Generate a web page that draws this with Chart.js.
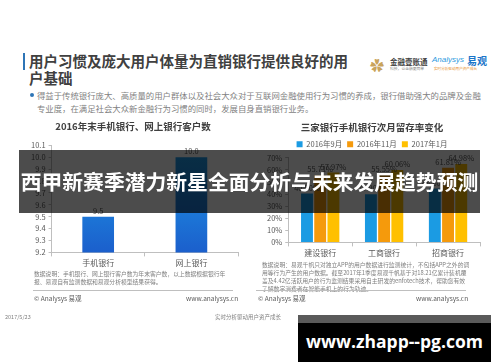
<!DOCTYPE html>
<html>
<head>
<meta charset="utf-8">
<script src="https://cdn.jsdelivr.net/npm/chart.js@4.4.0/dist/chart.umd.min.js"></script>
<style>
  html, body { margin: 0; padding: 0; background: #fff; }
  body { width: 500px; height: 362px; position: relative; overflow: hidden;
         font-family: "Noto Sans CJK SC", "Noto Sans", sans-serif; color: #595959; }
  .abs { position: absolute; white-space: nowrap; }
  #bar { left: 23px; top: 53px; width: 2px; height: 17px; background: #2e75b6; }
  #title { left: 29px; top: 52px; font-size: 14.5px; font-weight: bold; color: #404040; line-height: 17px; white-space: normal; width: 330px; }
  #bullet { left: 37px; top: 89px; font-size: 8.4px; line-height: 13px; color: #7f7f7f; white-space: normal; width: 445px; }
  #dot { left: 30px; top: 93px; width: 4px; height: 4px; border-radius: 2px; background: #2e75b6; }
  .note { font-size: 5.8px; line-height: 8px; color: #7f7f7f; white-space: normal; }
  .hr { height: 1px; background: #bfbfbf; }
  .src { font-size: 6.5px; color: #595959; }
  #banner { left: 19px; top: 150px; width: 461px; height: 63px; background: rgba(0,0,0,0.7);
            color: #fff; font-size: 20.8px; font-weight: bold; line-height: 63px; text-align: center; }
  #site { left: 298px; top: 315px; width: 193px; height: 47px; background: #000; border-top: 8px solid #5a5a5a; box-sizing: border-box;
          color: #fff; font-family: "Open Sans", sans-serif; font-weight: bold; font-size: 17.5px; line-height: 37px; text-align: center; }
</style>
</head>
<body>
<div class="abs" id="bar"></div>
<div class="abs" id="title">用户习惯及庞大用户体量为直销银行提供良好的用户基础</div>
<div class="abs" style="left:370px;top:55px;font-size:14px;color:#c9a45c;">✿</div>
<div class="abs" style="left:390px;top:56px;font-size:7.5px;color:#404040;font-weight:bold;">金融壹账通</div>
<div class="abs" style="left:390px;top:66px;font-size:3.8px;color:#7f7f7f;">科技，让金融更简单</div>
<div class="abs" style="left:432px;top:55px;font-size:8px;color:#2e9be0;font-style:italic;font-family:'Liberation Sans';">Analysys</div>
<div class="abs" style="left:467px;top:53px;font-size:10px;color:#1b75c9;font-weight:bold;">易观</div>
<div class="abs" style="left:434px;top:66px;font-size:3.6px;color:#e8912c;">实时分析驱动用户资产成长</div>
<div class="abs" id="dot"></div>
<div class="abs" id="bullet">得益于传统银行庞大、高质量的用户群体以及社会大众对于互联网金融使用行为习惯的养成，银行借助强大的品牌及金融专业度，在满足社会大众新金融行为习惯的同时，发展自身直销银行业务。</div>

<div class="abs" style="left:18px;top:118px;width:232px;height:152px;"><canvas id="c1" width="232" height="152"></canvas></div>
<div class="abs" style="left:252px;top:118px;width:240px;height:142px;"><canvas id="c2" width="240" height="142"></canvas></div>

<div class="abs note" style="left:34px;top:270px;width:200px;">数据说明：手机银行、网上银行客户数为年末客户数，以上数据根据银行年报、易观自有监测数据和易观分析模型结果获得。</div>
<div class="abs hr" style="left:33px;top:290px;width:200px;"></div>
<div class="abs src" style="left:34px;top:293px;">© Analysys 易观</div>
<div class="abs src" style="left:186px;top:293px;">www.analysys.cn</div>

<div class="abs note" style="left:262px;top:261px;width:208px;">数据说明：易观千帆只对独立APP的用户数据进行监测统计，不包括APP之外的调用等行为产生的用户数据。截至2017年1季度易观千帆基于对18.21亿累计装机覆盖及4.42亿活跃用户的行为监测结果采用自主研发的enfotech技术，帮助您有效了解数字消费者在智能手机上的行为轨迹。</div>
<div class="abs hr" style="left:256px;top:290px;width:210px;"></div>
<div class="abs src" style="left:258px;top:293px;">© Analysys 易观</div>
<div class="abs src" style="left:416px;top:293px;">www.analysys.cn</div>

<div class="abs" style="left:5px;top:313px;font-size:5.5px;color:#7f7f7f;">2017/5/23</div>
<div class="abs" style="left:215px;top:313px;font-size:5.5px;color:#7f7f7f;">实时分析驱动用户资产成长</div>
<div class="abs" style="left:485px;top:313px;font-size:5.5px;color:#7f7f7f;">7</div>

<div class="abs" id="banner">西甲新赛季潜力新星全面分析与未来发展趋势预测</div>
<div class="abs" id="site">www.zhapp--pg.com</div>

<script>
const channels = ['手机银行', '网上银行'];
const customers = [9.5, 10.0];

const banks = ['建设银行', '工商银行', '招商银行'];
const months = ['2016年9月', '2016年11月', '2017年1月'];
const retainSep16 = [40.5, 39.9, 44.60];
const retainNov16 = [55.71, 55.55, 61.81];
const retainJan17 = [57.97, 60.06, 64.98];
const colors = ['#1b9be3', '#f59a0c', '#ffc000'];

const font = "'Noto Sans CJK SC', sans-serif";
Chart.defaults.font.family = font;
Chart.defaults.color = '#595959';
Chart.defaults.animation = false;

const valueLabels = {
  id: 'valueLabels',
  afterDatasetsDraw(chart, args, opts) {
    const ctx = chart.ctx;
    ctx.save();
    ctx.font = '7.5px ' + font;
    ctx.fillStyle = '#595959';
    ctx.textAlign = 'center';
    ctx.textBaseline = 'bottom';
    chart.data.datasets.forEach((ds, i) => {
      chart.getDatasetMeta(i).data.forEach((el, j) => {
        ctx.fillText(opts.fmt(ds.data[j]), el.x, el.y - 2);
      });
    });
    ctx.restore();
  }
};

function axisX() {
  return {
    grid: { display: true, drawOnChartArea: false, offset: true, tickLength: 4, color: '#bfbfbf' },
    border: { color: '#bfbfbf' },
    ticks: { font: { size: 8 }, padding: 2 }
  };
}

new Chart(document.getElementById('c1'), {
  type: 'bar',
  data: {
    labels: channels,
    datasets: [{
      data: customers,
      backgroundColor(c) {
        const a = c.chart.chartArea;
        if (!a) return '#1b8fe0';
        const g = c.chart.ctx.createLinearGradient(0, a.top, 0, a.bottom);
        g.addColorStop(0, '#1ea0ea');
        g.addColorStop(1, '#1b5fcc');
        return g;
      },
      barPercentage: 0.34,
      categoryPercentage: 1
    }]
  },
  options: {
    responsive: false,
    layout: { padding: { left: 10, right: 12, top: 0, bottom: 0 } },
    plugins: {
      legend: { display: false },
      tooltip: { enabled: false },
      title: { display: true, text: '2016年末手机银行、网上银行客户数', color: '#404040',
               font: { size: 9.5, weight: 'bold' }, padding: { top: 3, bottom: 13 } },
      valueLabels: { fmt: v => v.toFixed(1) }
    },
    scales: {
      x: axisX(),
      y: {
        min: 9.2, max: 10.1,
        grid: { display: true, drawOnChartArea: false, tickLength: 3, color: '#bfbfbf' },
        border: { color: '#bfbfbf' },
        ticks: { stepSize: 0.1, autoSkip: false, font: { size: 7.5 }, padding: 3, callback: v => v.toFixed(1) }
      }
    }
  },
  plugins: [valueLabels]
});

new Chart(document.getElementById('c2'), {
  type: 'bar',
  data: {
    labels: banks,
    datasets: [
      { label: months[0], data: retainSep16, backgroundColor: colors[0] },
      { label: months[1], data: retainNov16, backgroundColor: colors[1] },
      { label: months[2], data: retainJan17, backgroundColor: colors[2] }
    ].map(d => Object.assign(d, { barPercentage: 0.9, categoryPercentage: 0.62 }))
  },
  options: {
    responsive: false,
    layout: { padding: { left: 12, right: 12, top: 0, bottom: 0 } },
    plugins: {
      tooltip: { enabled: false },
      title: { display: true, text: '三家银行手机银行次月留存率变化', color: '#404040',
               font: { size: 9.5, weight: 'bold' }, padding: { top: 4, bottom: 2 } },
      legend: { labels: { boxWidth: 6, boxHeight: 6, padding: 5, font: { size: 7.5 } } },
      valueLabels: { fmt: v => v.toFixed(2) + '%' }
    },
    scales: {
      x: axisX(),
      y: {
        min: 0, max: 70,
        grid: { display: true, drawOnChartArea: false, tickLength: 3, color: '#bfbfbf' },
        border: { color: '#bfbfbf' },
        ticks: { stepSize: 10, autoSkip: false, font: { size: 7.5 }, padding: 3, callback: v => v + '%' }
      }
    }
  },
  plugins: [valueLabels]
});
</script>
</body>
</html>
